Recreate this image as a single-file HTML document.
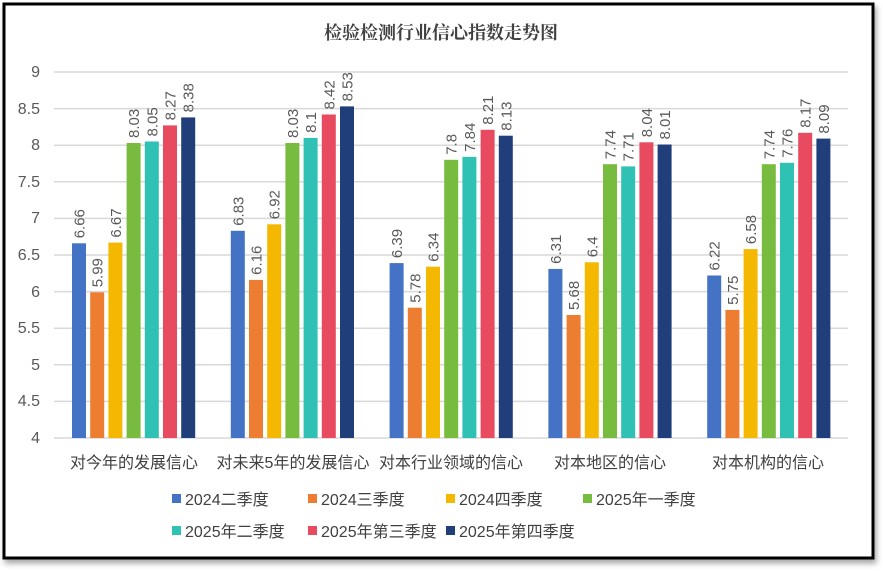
<!DOCTYPE html>
<html><head><meta charset="utf-8"><style>
body{margin:0;background:#fff;}
svg{display:block;font-family:"Liberation Sans","Noto Sans CJK SC",sans-serif;}
</style></head><body>
<svg width="883" height="572" viewBox="0 0 883 572">
<defs><filter id="sh" x="-5%" y="-5%" width="110%" height="115%"><feDropShadow dx="2" dy="4" stdDeviation="3" flood-color="#000" flood-opacity="0.35"/></filter></defs>
<rect x="4" y="4" width="869" height="554" fill="#fff" stroke="#000" stroke-width="3" filter="url(#sh)"/>
<text x="441" y="39" text-anchor="middle" font-size="18" font-weight="bold" fill="#404040" font-family="'Noto Serif CJK SC','Liberation Serif',serif">检验检测行业信心指数走势图</text>
<g stroke="#d9d9d9" stroke-width="1.5">
<line x1="54" x2="848" y1="72" y2="72"/><line x1="54" x2="848" y1="108.6" y2="108.6"/><line x1="54" x2="848" y1="145.2" y2="145.2"/><line x1="54" x2="848" y1="181.8" y2="181.8"/><line x1="54" x2="848" y1="218.4" y2="218.4"/><line x1="54" x2="848" y1="255" y2="255"/><line x1="54" x2="848" y1="291.6" y2="291.6"/><line x1="54" x2="848" y1="328.2" y2="328.2"/><line x1="54" x2="848" y1="364.8" y2="364.8"/><line x1="54" x2="848" y1="401.4" y2="401.4"/><line x1="54" x2="848" y1="438" y2="438"/>
</g>
<g font-size="16" fill="#595959" text-anchor="end">
<text x="40" y="77">9</text><text x="40" y="114">8.5</text><text x="40" y="150">8</text><text x="40" y="187">7.5</text><text x="40" y="223">7</text><text x="40" y="260">6.5</text><text x="40" y="297">6</text><text x="40" y="333">5.5</text><text x="40" y="370">5</text><text x="40" y="406">4.5</text><text x="40" y="443">4</text>
</g>
<g id="bars"></g>
<g font-size="16" fill="#404040" text-anchor="middle">
<text x="134" y="468">对今年的发展信心</text><text x="293" y="468">对未来5年的发展信心</text><text x="451" y="468">对本行业领域的信心</text><text x="610" y="468">对本地区的信心</text><text x="768" y="468">对本机构的信心</text>
</g>
<g font-size="16" fill="#404040">
<rect x="172" y="494" width="9" height="9" fill="#4472C4"/><text x="185" y="505">2024二季度</text>
<rect x="308" y="494" width="9" height="9" fill="#ED7D31"/><text x="321" y="505">2024三季度</text>
<rect x="446" y="494" width="9" height="9" fill="#F5B800"/><text x="459" y="505">2024四季度</text>
<rect x="583" y="494" width="9" height="9" fill="#77BC3F"/><text x="596" y="505">2025年一季度</text>
<rect x="172" y="526" width="9" height="9" fill="#2EC1B4"/><text x="185" y="537">2025年二季度</text>
<rect x="308" y="526" width="9" height="9" fill="#E84A5F"/><text x="321" y="537">2025年第三季度</text>
<rect x="446" y="526" width="9" height="9" fill="#203F7A"/><text x="459" y="537">2025年第四季度</text>
</g>
</svg>
<script>
var d=[[6.66,5.99,6.67,8.03,8.05,8.27,8.38],[6.83,6.16,6.92,8.03,8.1,8.42,8.53],[6.39,5.78,6.34,7.8,7.84,8.21,8.13],[6.31,5.68,6.4,7.74,7.71,8.04,8.01],[6.22,5.75,6.58,7.74,7.76,8.17,8.09]];
var c=["#4472C4","#ED7D31","#F5B800","#77BC3F","#2EC1B4","#E84A5F","#203F7A"];
var g=document.getElementById("bars"),s="";
for(var i=0;i<5;i++)for(var j=0;j<7;j++){var v=d[i][j],x=72+i*158.8+j*18.2,y=438-(v-4)*73.2;
s+='<rect x="'+x.toFixed(1)+'" y="'+y.toFixed(1)+'" width="14" height="'+(438-y).toFixed(1)+'" fill="'+c[j]+'"/>';
var tx=x+12.5,ty=y-5;s+='<text transform="translate('+tx.toFixed(1)+','+ty.toFixed(1)+') rotate(-90)" font-size="15" fill="#595959">'+v+'</text>';}
g.innerHTML=s;
</script>
</body></html>
